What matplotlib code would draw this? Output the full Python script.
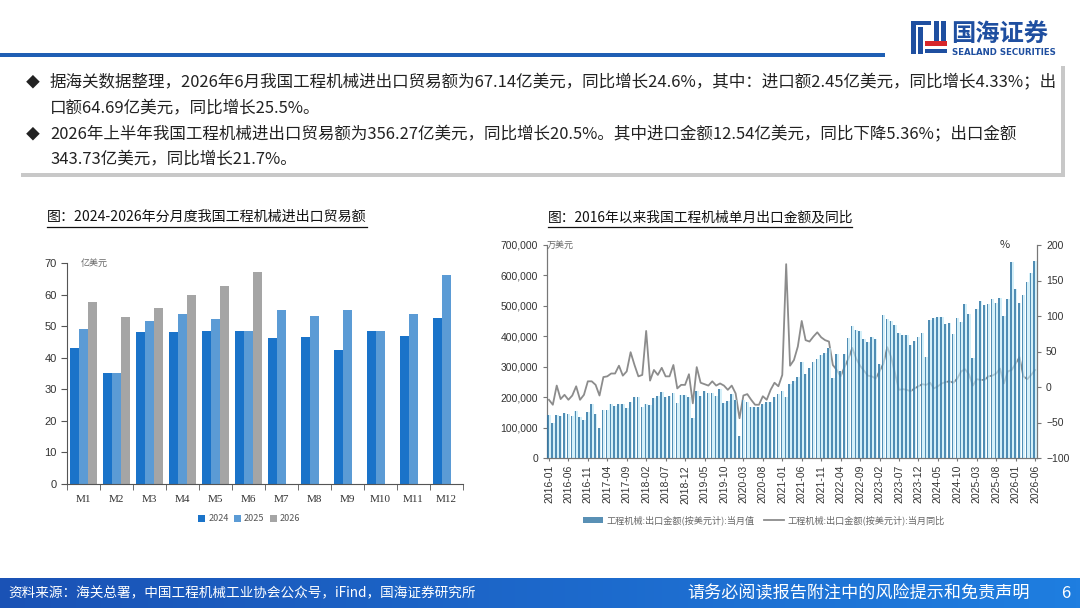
import matplotlib
matplotlib.use("Agg")
import matplotlib.pyplot as plt
import numpy as np
from matplotlib.patches import Rectangle
from matplotlib.colors import LinearSegmentedColormap
from matplotlib.ticker import FuncFormatter, MultipleLocator

plt.rcParams['font.family'] = ['Noto Sans CJK SC', 'DejaVu Sans']

# ---- left chart data (亿美元) ----
months = ["M1", "M2", "M3", "M4", "M5", "M6", "M7", "M8", "M9", "M10", "M11", "M12"]
trade_2024 = [43.1, 35.3, 48.0, 48.0, 48.4, 48.4, 46.1, 46.6, 42.5, 48.4, 46.8, 52.6]
trade_2025 = [49.2, 35.1, 51.7, 53.7, 52.4, 48.4, 55.0, 53.1, 55.0, 48.4, 54.0, 66.3]
trade_2026 = [57.5, 53.0, 55.9, 59.9, 62.6, 67.1]

# ---- right chart data: 2016-01 .. 2026-06 ----
export_val = [  # 万美元
    140000, 115000, 140000, 139000, 148000, 144000, 139000, 156000, 136000, 125000, 151000, 176000,
    145000, 98000, 158000, 157000, 177000, 172000, 178000, 179000, 163000, 185000, 199000, 202000,
    168000, 177000, 173000, 196000, 204000, 217000, 202000, 205000, 213000, 180000, 208000, 208000,
    199000, 133000, 221000, 204000, 219000, 215000, 215000, 204000, 226000, 180000, 187000, 211000,
    191000, 73000, 191000, 183000, 169000, 166000, 166000, 177000, 184000, 184000, 200000, 210000,
    219000, 202000, 244000, 254000, 266000, 314000, 277000, 297000, 317000, 325000, 339000, 344000,
    361000, 262000, 342000, 285000, 342000, 395000, 434000, 421000, 419000, 392000, 381000, 397000,
    390000, 309000, 470000, 457000, 449000, 436000, 410000, 405000, 405000, 373000, 385000, 397000,
    410000, 333000, 454000, 459000, 462000, 464000, 439000, 443000, 408000, 461000, 448000, 505000,
    473000, 329000, 490000, 515000, 502000, 506000, 522000, 511000, 525000, 467000, 522000, 643000,
    555000, 511000, 537000, 577000, 607000, 647000,
]
export_yoy = [  # %
    -18, -25, 2, -17, -11, -18, -12, 1, -18, -11, 8, 8,
    3, -12, 14, 15, 19, 19, 30, 16, 22, 49, 31, 15,
    17, 79, 9, 24, 17, 27, 15, 15, 31, -2, 3, 3,
    18, -23, 28, 6, 4, 2, 8, 2, 5, 2, -4, 2,
    -9, -44, -12, -10, -18, -25, -25, -13, -18, -4, 6, 1,
    17, 173, 30, 38, 57, 93, 66, 64, 71, 77, 70, 66,
    64, 31, 24, 15, 28, 40, 55, 40, 30, 23, 16, 15,
    12, 22, 33, 56, 42, 19, -4, -3, -4, -6, -2, 1,
    4, 3, 6, -2, 1, 5, 7, 8, 6, 12, 22, 25,
    18, 2, 11, 10, 10, 15, 16, 19, 26, 5, 22, 24,
    33, 42, 15, 11, 17, 24,
]
month_labels = [f"{2016 + i // 12}-{i % 12 + 1:02d}" for i in range(len(export_val))]

W, H = 1080, 608
fig = plt.figure(figsize=(W / 100, H / 100), dpi=100)
fig.patch.set_facecolor("white")

# overlay in pixel coordinates for page decorations
deco = fig.add_axes([0, 0, 1, 1])
deco.axis("off")

# header line and logo
deco.add_patch(Rectangle((0, 53), 885, 3.5, color="#1f5fb4", lw=0))
blue = "#1f4fa0"
deco.add_patch(Rectangle((911, 21), 4.5, 33, color=blue, lw=0))
deco.add_patch(Rectangle((918, 27), 4.5, 27, color=blue, lw=0))
deco.add_patch(Rectangle((911, 21), 20, 3.5, color=blue, lw=0))
deco.add_patch(Rectangle((934, 21), 4.5, 20, color=blue, lw=0))
deco.add_patch(Rectangle((941, 21), 4.5, 20, color=blue, lw=0))
deco.add_patch(Rectangle((925, 41), 22, 4.5, color="#d7262b", lw=0))
deco.add_patch(Rectangle((925, 49), 22, 4, color=blue, lw=0))
deco.text(951, 35, "国海证券", fontsize=17.5, fontweight="bold", color=blue, va="center", ha="left")
deco.text(952, 52.5, "SEALAND SECURITIES", fontsize=6.2, fontweight="bold", color=blue,
          va="center", ha="left", family=["DejaVu Sans"])

# text box with shadow
deco.add_patch(Rectangle((21, 66), 1044, 111, color="#c8c8c8", lw=0))
deco.add_patch(Rectangle((17, 62), 1044, 111, color="white", lw=0))
lines = [
    (83, True, "据海关数据整理，2026年6月我国工程机械进出口贸易额为67.14亿美元，同比增长24.6%，其中：进口额2.45亿美元，同比增长4.33%；出"),
    (109, False, "口额64.69亿美元，同比增长25.5%。"),
    (135, True, "2026年上半年我国工程机械进出口贸易额为356.27亿美元，同比增长20.5%。其中进口金额12.54亿美元，同比下降5.36%；出口金额"),
    (160, False, "343.73亿美元，同比增长21.7%。"),
]
deco.set_xlim(0, W)
deco.set_ylim(H, 0)
renderer = fig.canvas.get_renderer()
probe = deco.text(50, 83, lines[0][2], fontsize=11)
wpx = probe.get_window_extent(renderer).width
probe.remove()
fs = 11 * (1007 / wpx)
for y, bullet, s in lines:
    if bullet:
        deco.text(33, y, "◆", fontsize=10, va="center", ha="center", color="#222222")
    deco.text(50, y, s, fontsize=fs, va="center", ha="left", color="#222222")

# chart titles with underline
deco.text(47, 217, "图：2024-2026年分月度我国工程机械进出口贸易额", fontsize=10.1, va="center", ha="left",
          color="#111111", fontweight="medium")
deco.plot([47, 367], [226.5, 226.5], color="#111111", lw=0.9)
deco.text(548, 217, "图：2016年以来我国工程机械单月出口金额及同比", fontsize=9.9, va="center", ha="left",
          color="#111111", fontweight="medium")
deco.plot([548, 852], [226.5, 226.5], color="#111111", lw=0.9)

# footer band
grad = np.linspace(0, 1, 256).reshape(1, -1)
cmap = LinearSegmentedColormap.from_list("foot", ["#1a52b5", "#1f7ee0"])
deco.imshow(grad, extent=[0, W, H, 578], aspect="auto", cmap=cmap, zorder=1)
deco.set_xlim(0, W)
deco.set_ylim(H, 0)
deco.text(8, 593, "资料来源：海关总署，中国工程机械工业协会公众号，iFind，国海证券研究所", fontsize=9.8,
          color="white", va="center", ha="left", zorder=2)
deco.text(1030, 593, "请务必阅读报告附注中的风险提示和免责声明", fontsize=12.3, color="white",
          va="center", ha="right", zorder=2)
deco.text(1066, 593, "6", fontsize=12, color="white", va="center", ha="center", zorder=2)

# ---- left chart ----
axl = fig.add_axes([67 / W, 1 - 484 / H, 396 / W, 221 / H])
x = np.arange(len(months))
bw = 0.28
axl.bar(x - bw, trade_2024, bw, color="#1a73c9", label="2024")
axl.bar(x, trade_2025, bw, color="#5b9bd5", label="2025")
axl.bar(np.arange(len(trade_2026)) + bw, trade_2026, bw, color="#a5a5a5", label="2026")
axl.set_xlim(-0.5, len(months) - 0.5)
axl.set_ylim(0, 70)
axl.yaxis.set_major_locator(MultipleLocator(10))
axl.set_xticks(x)
axl.set_xticklabels(months, family=["Liberation Serif"], fontsize=8, color="#333333")
axl.set_xticks(np.arange(-0.5, len(months)), minor=True)
axl.tick_params(axis="x", which="major", length=0, pad=8)
axl.tick_params(axis="x", which="minor", length=4, color="#555555")
axl.tick_params(axis="y", length=4, color="#555555", labelsize=8, labelcolor="#333333")
for lab in axl.get_yticklabels():
    lab.set_family(["Liberation Sans"])
for sp in ["top", "right"]:
    axl.spines[sp].set_visible(False)
for sp in ["left", "bottom"]:
    axl.spines[sp].set_color("#555555")
axl.text(0.035, 1.0, "亿美元", transform=axl.transAxes, fontsize=6.5, color="#666666", va="center", ha="left")
axl.legend(loc="upper center", bbox_to_anchor=(0.46, -0.10), ncol=3, frameon=False, fontsize=6.5,
           handlelength=0.8, handleheight=0.8, handletextpad=0.3, columnspacing=0.6, labelcolor="#555555")

# ---- right chart ----
axr = fig.add_axes([547 / W, 1 - 458 / H, 490 / W, 213 / H])
axr2 = axr.twinx()
n = len(export_val)
xi = np.arange(n)
axr2.plot(xi, export_yoy, color="#8c8c8c", lw=1.3, zorder=1,
          label="工程机械:出口金额(按美元计):当月同比")
axr.set_zorder(axr2.get_zorder() + 1)
axr.patch.set_visible(False)
axr.bar(xi + 0.02, export_val, 0.92, color="#bfe8f7", alpha=0.65, lw=0, zorder=2)
axr.bar(xi - 0.2, export_val, 0.42, color="#2f74a3", alpha=0.8, lw=0, zorder=3,
        label="工程机械:出口金额(按美元计):当月值")
axr.set_xlim(-0.5, n - 0.5)
axr.set_ylim(0, 700000)
axr2.set_ylim(-100, 200)
axr.yaxis.set_major_locator(MultipleLocator(100000))
axr2.yaxis.set_major_locator(MultipleLocator(50))
axr.yaxis.set_major_formatter(FuncFormatter(lambda v, p: f"{int(v):,}"))
tick_idx = list(range(0, n, 5))
axr.set_xticks(tick_idx)
axr.set_xticklabels([month_labels[i] for i in tick_idx], rotation=90, fontsize=7.5,
                    family=["Liberation Sans"], color="#333333")
axr.tick_params(axis="x", length=2, color="#777777", pad=3)
axr.tick_params(axis="y", length=3, color="#777777", labelsize=7.5, labelcolor="#333333")
axr2.tick_params(axis="y", length=3, color="#777777", labelsize=7.5, labelcolor="#333333")
for lab in axr.get_yticklabels() + axr2.get_yticklabels():
    lab.set_family(["Liberation Sans"])
for a in (axr, axr2):
    a.spines["top"].set_visible(False)
    for sp in ["left", "right", "bottom"]:
        a.spines[sp].set_color("#777777")
axr.text(0.0, 1.0, "万美元", transform=axr.transAxes, fontsize=6.5, color="#666666", va="center", ha="left")
axr.text(0.935, 1.0, "%", transform=axr.transAxes, fontsize=8, color="#333333", va="center", ha="center")
h1, l1 = axr.get_legend_handles_labels()
h2, l2 = axr2.get_legend_handles_labels()
axr.legend(h1 + h2, l1 + l2, loc="upper center", bbox_to_anchor=(0.443, -0.23), ncol=2, frameon=False,
           fontsize=6.6, labelcolor="#666666", handlelength=2.2, columnspacing=1.0, handletextpad=0.4)

fig.savefig("out.png", dpi=100)
